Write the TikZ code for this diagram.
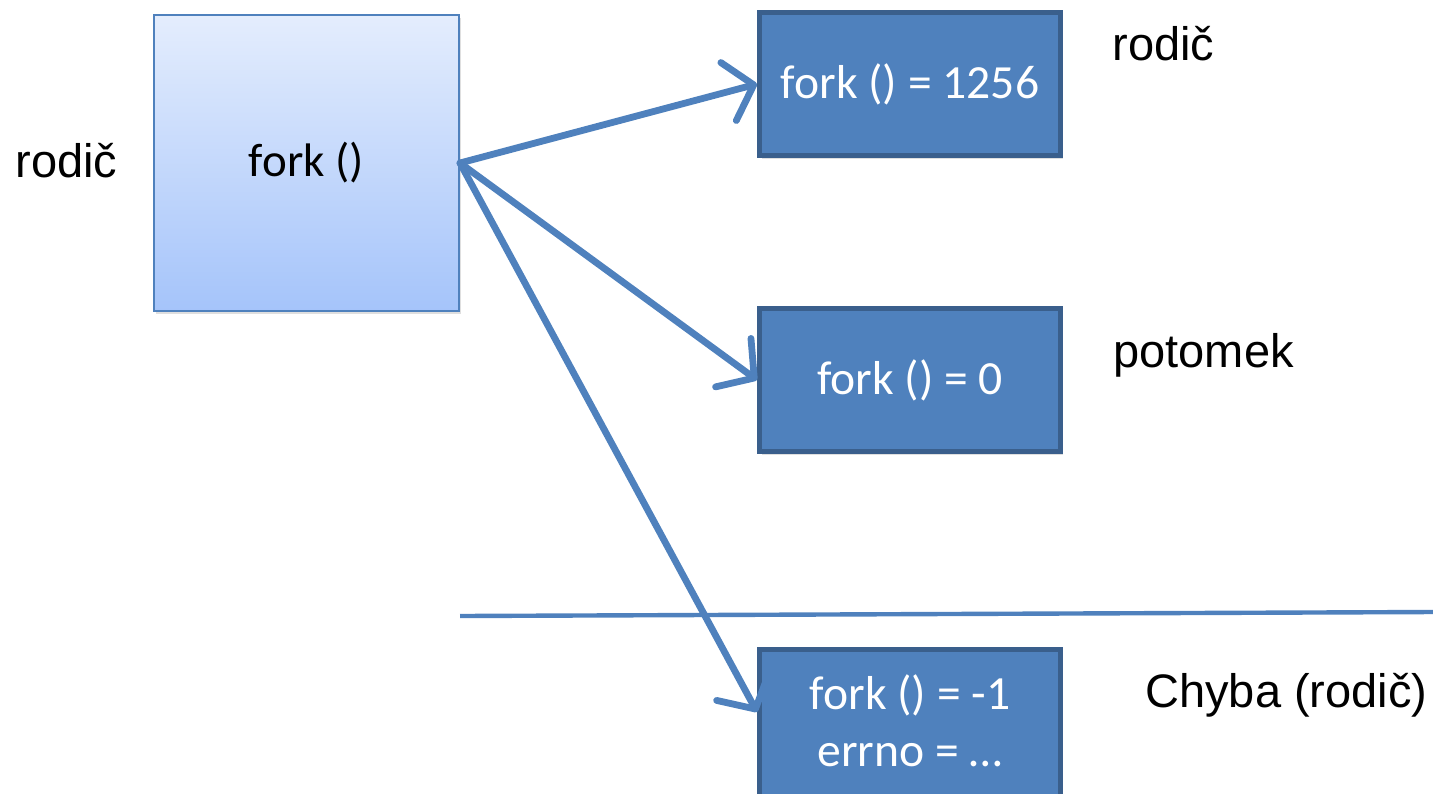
\documentclass[tikz,border=0pt]{standalone}
\usepackage{fontspec}
\setmainfont{Carlito}
\newfontfamily\labelfont{Liberation Sans}
\usetikzlibrary{arrows.meta,shadows}

\definecolor{boxblue}{HTML}{4F81BD}
\definecolor{boxedge}{HTML}{3A5F8C}
\definecolor{toplight}{HTML}{E4EDFD}
\definecolor{botlight}{HTML}{A5C4FA}

\tikzset{
    callbox/.style={draw=boxblue, line width=1pt, top color=toplight, bottom color=botlight,
        minimum width=152.5pt, minimum height=148pt, inner sep=0pt,
        font=\fontsize{23.5}{28.5}\selectfont,
        drop shadow={shadow xshift=1pt, shadow yshift=-1.5pt, opacity=0.25}},
    result/.style={draw=boxedge, line width=2.5pt, fill=boxblue, text=white,
        minimum width=150.5pt, minimum height=71.5pt, inner sep=0pt, align=center,
        font=\fontsize{23.8}{28.5}\selectfont,
        drop shadow={shadow xshift=1pt, shadow yshift=-1.5pt, opacity=0.25}},
    tag/.style={inner sep=0pt, anchor=base west, font=\labelfont\fontsize{23.5}{28}\selectfont},
    flow/.style={draw=boxblue, line width=3.4pt, line cap=round,
        -{Straight Barb[length=13pt, width=30pt, line cap=round, line join=round]}},
}

\begin{document}
\begin{tikzpicture}[x=0.5pt, y=-0.5pt]
    \useasboundingbox (0,0) rectangle (1433,793);

    % Calling process
    \node[callbox] (parent) at (306.5,163) {fork ()};
    \node[tag] (lparent) at (15,177) {rodič};

    % Return values
    \node[result] (res1) at (910,84) {fork () = 1256};
    \node[result] (res0) at (910,380) {fork () = 0};
    \node[result, minimum height=78pt, text depth=6pt] (reserr) at (910,727) {fork () = -1\\errno = …};

    % Labels on the right
    \node[tag] (lpar) at (1112,60) {rodič};
    \node[tag] (lchild) at (1113,367) {potomek};
    \node[tag] (lerr) at (1145,707) {Chyba (rodič)};

    % Separator between success and failure
    \coordinate (sepL) at (460,616);
    \coordinate (sepR) at (1433,612);
    \draw[boxblue, line width=2.2pt] (sepL) -- (sepR);

    % Arrows from fork ()
    \draw[flow] (parent.east) -- (res1.west);
    \draw[flow] (parent.east) -- (res0.west);
    \draw[flow] (parent.east) -- ([yshift=7.5pt]reserr.west);
\end{tikzpicture}
\end{document}
